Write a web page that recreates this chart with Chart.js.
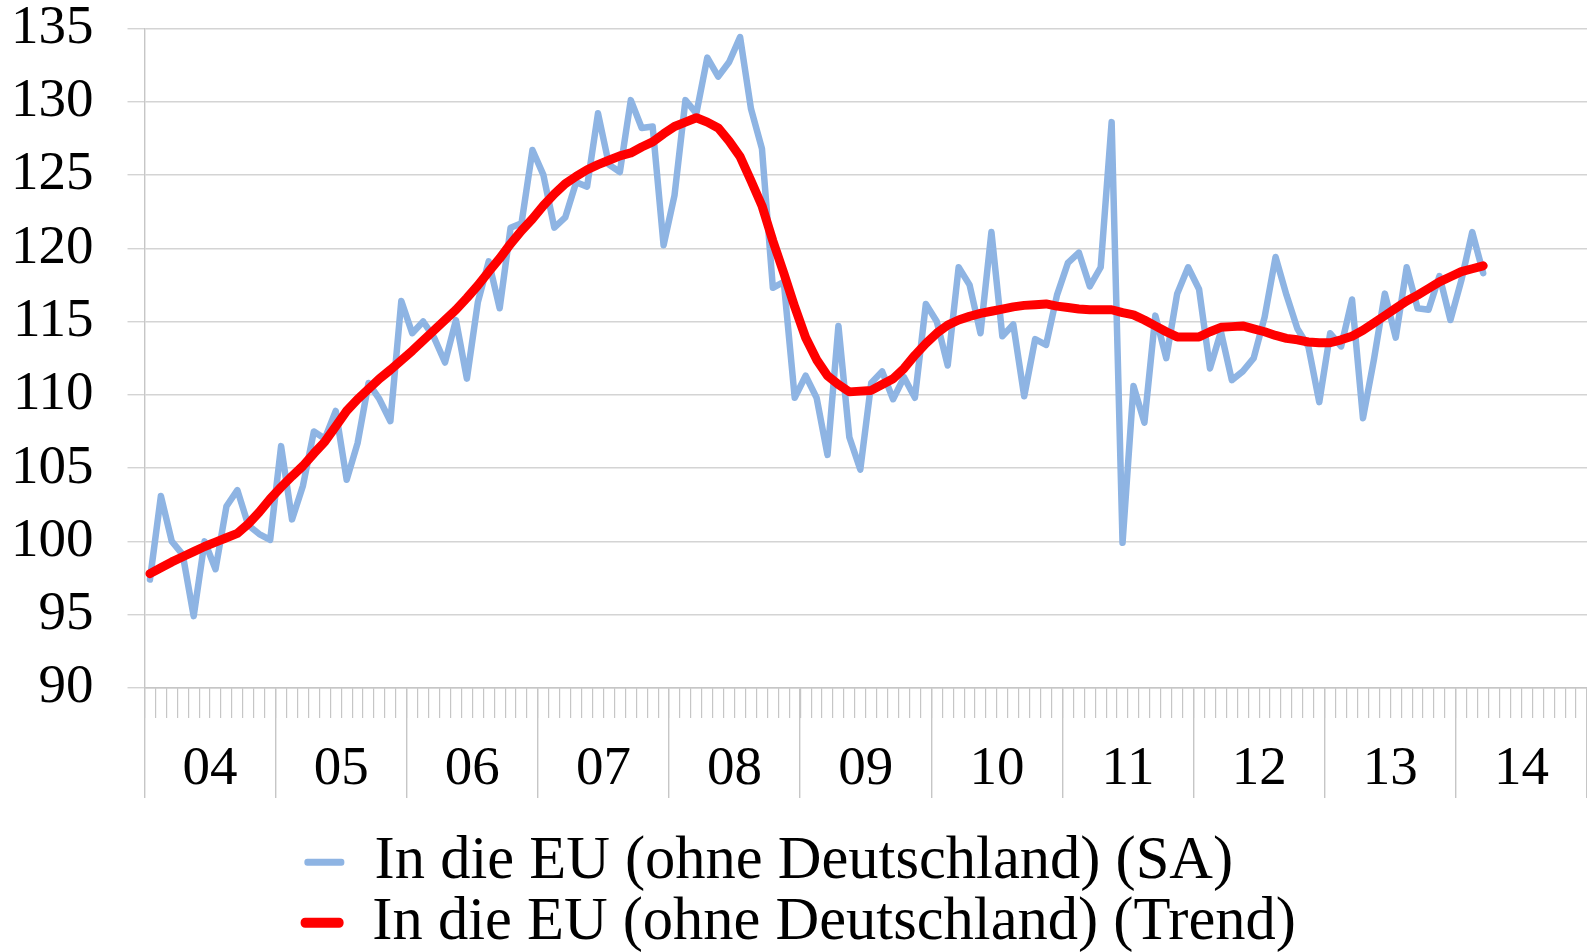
<!DOCTYPE html>
<html>
<head>
<meta charset="utf-8">
<script src="https://cdn.jsdelivr.net/npm/chart.js@4.4.1/dist/chart.umd.min.js"></script>
<style>
  html, body { margin: 0; padding: 0; background: #fff; }
  #wrap { width: 1587px; height: 952px; position: relative; }
</style>
</head>
<body>
<div id="wrap"><canvas id="chart"></canvas></div>
<script>
// Jahreslabels (Achse x), Monatswerte Jan 2004 - Mär 2014
const years = ['04', '05', '06', '07', '08', '09', '10', '11', '12', '13', '14'];
const monthsOnAxis = 132;

const saLabel = 'In die EU (ohne Deutschland) (SA)';
const trendLabel = 'In die EU (ohne Deutschland) (Trend)';

// saisonbereinigt
const saValues = [
  97.4, 103.1, 100.0, 99.1, 94.9, 100.0, 98.1, 102.4, 103.5, 101.1, 100.5, 100.1,
  106.5, 101.5, 103.8, 107.5, 107.0, 108.9, 104.2, 106.7, 110.8, 109.7, 108.2, 116.4,
  114.2, 115.0, 113.9, 112.2, 115.1, 111.1, 116.3, 119.1, 115.9, 121.4, 121.7, 126.7,
  125.0, 121.4, 122.1, 124.5, 124.2, 129.2, 125.7, 125.2, 130.1, 128.2, 128.3, 120.2,
  123.6, 130.1, 129.2, 133.0, 131.7, 132.7, 134.4, 129.5, 126.8, 117.3, 117.7, 109.8,
  111.3, 109.8, 105.9, 114.7, 107.1, 104.9, 110.8, 111.6, 109.7, 111.2, 109.8, 116.2,
  115.0, 112.0, 118.7, 117.5, 114.2, 121.1, 114.0, 114.8, 109.9, 113.8, 113.4, 116.8,
  119.0, 119.7, 117.4, 118.7, 128.6, 99.9, 110.6, 108.1, 115.4, 112.5, 116.9, 118.7,
  117.2, 111.8, 114.3, 111.0, 111.6, 112.5, 115.3, 119.4, 116.8, 114.5, 113.3, 109.5,
  114.2, 113.3, 116.5, 108.4, 112.4, 116.9, 113.9, 118.7, 115.9, 115.8, 118.1, 115.1,
  117.8, 121.1, 118.3
];

// Trend
const trendValues = [
  97.8, 98.2, 98.6, 98.95, 99.3, 99.65, 99.95, 100.25, 100.55, 101.2, 102.0, 102.9,
  103.7, 104.45, 105.15, 106.0, 106.8, 107.85, 108.9, 109.7, 110.4, 111.1, 111.7, 112.35,
  113.0, 113.7, 114.4, 115.1, 115.8, 116.6, 117.45, 118.4, 119.3, 120.3, 121.2, 122.0,
  122.9, 123.7, 124.4, 124.9, 125.35, 125.7, 126.0, 126.3, 126.5, 126.9, 127.25, 127.8,
  128.3, 128.6, 128.9, 128.6, 128.2, 127.3, 126.25, 124.6, 122.9, 120.5, 118.3, 116.0,
  113.9, 112.4, 111.3, 110.7, 110.2, 110.25, 110.3, 110.7, 111.1, 111.8, 112.7, 113.5,
  114.2, 114.75, 115.1, 115.35, 115.55, 115.7, 115.85, 116.0, 116.1, 116.15, 116.2, 116.05,
  115.95, 115.85, 115.8, 115.8, 115.8, 115.6, 115.45, 115.1, 114.7, 114.3, 113.95, 113.95,
  113.95, 114.3, 114.6, 114.65, 114.7, 114.5, 114.3, 114.05, 113.85, 113.75, 113.6, 113.55,
  113.55, 113.75, 114.0, 114.4, 114.9, 115.4, 115.9, 116.4, 116.8, 117.25, 117.7, 118.05,
  118.4, 118.6, 118.8
];

const yMin = 90, yMax = 135, yStep = 5;

const serif = 'Liberation Serif';
const axisGrey = '#c6c6c6';
const gridGrey = '#d4d4d4';

// Monat i liegt in der Mitte seines Intervalls
function toPoints(values) {
    return values.map((v, i) => ({ x: i + 0.5, y: v }));
}

const ctx = document.getElementById('chart').getContext('2d');

new Chart(ctx, {
    type: 'line',
    data: {
        datasets: [
            {
                label: saLabel,
                data: toPoints(saValues),
                borderColor: '#8eb4e3',
                borderWidth: 6.5,
                borderJoinStyle: 'round',
                borderCapStyle: 'round',
                pointRadius: 0,
                tension: 0,
                order: 1,
                legendBox: 0
            },
            {
                label: trendLabel,
                data: toPoints(trendValues),
                borderColor: '#ff0000',
                borderWidth: 9,
                borderJoinStyle: 'round',
                borderCapStyle: 'round',
                pointRadius: 0,
                tension: 0,
                order: 0,
                legendBox: 3
            }
        ]
    },
    options: {
        responsive: true,
        maintainAspectRatio: false,
        animation: false,
        layout: { padding: { left: 11, right: 0, top: 0, bottom: -11 } },
        plugins: {
            tooltip: { enabled: false },
            legend: {
                position: 'bottom',
                align: 'center',
                labels: {
                    font: { family: serif, size: 60.5 },
                    color: '#000',
                    boxWidth: 40,
                    boxHeight: 7,
                    padding: 0,
                    useBorderRadius: true,
                    borderRadius: 3,
                    sort: (a, b) => a.datasetIndex - b.datasetIndex,
                    generateLabels(chart) {
                        const items = Chart.defaults.plugins.legend.labels.generateLabels(chart);
                        items.forEach(it => {
                            const ds = chart.data.datasets[it.datasetIndex];
                            it.fillStyle = ds.borderColor;
                            it.strokeStyle = ds.borderColor;
                            it.lineWidth = ds.legendBox;
                        });
                        // beide Zeilen linksbündig: kürzere Zeile auffüllen
                        const sa = items.find(it => it.datasetIndex === 0);
                        const tr = items.find(it => it.datasetIndex === 1);
                        const c = chart.ctx;
                        c.save();
                        c.font = '60.5px "' + serif + '"';
                        const diff = c.measureText(tr.text).width - c.measureText(sa.text).width;
                        const sp = c.measureText(' ').width;
                        c.restore();
                        const n = Math.round(diff / sp);
                        if (n > 0) sa.text = sa.text + ' '.repeat(n);
                        return items;
                    }
                }
            }
        },
        scales: {
            x: {
                type: 'linear',
                position: 'bottom',
                min: 0,
                max: monthsOnAxis,
                afterFit: s => { s.height = 144; },
                ticks: {
                    stepSize: 6,
                    autoSkip: false,
                    maxRotation: 0,
                    minRotation: 0,
                    maxTicksLimit: 200,
                    padding: -56,
                    font: { family: serif, size: 55, lineHeight: 1 },
                    color: '#000',
                    callback: v => (v % 12 === 6 ? years[(v - 6) / 12] : '')
                },
                grid: {
                    drawOnChartArea: false,
                    tickLength: 110,
                    lineWidth: 1.4,
                    color: c => (c.tick && c.tick.value % 12 === 0 ? axisGrey : 'rgba(0,0,0,0)')
                },
                border: { display: true, color: axisGrey, width: 1.4 }
            },
            xm: {
                type: 'linear',
                position: { y: yMin },
                min: 0,
                max: monthsOnAxis,
                ticks: { stepSize: 1, autoSkip: false, display: false, maxTicksLimit: 200 },
                grid: {
                    drawOnChartArea: false,
                    tickLength: 30,
                    lineWidth: 1.2,
                    color: axisGrey
                },
                border: { display: false }
            },
            y: {
                min: yMin,
                max: yMax,
                afterFit: s => {
                    s.width = 133.5;
                    s.paddingTop = 28.3;
                    s.paddingBottom = 0;
                },
                ticks: {
                    stepSize: yStep,
                    padding: 34,
                    font: { family: serif, size: 55, lineHeight: 1.03 },
                    color: '#000'
                },
                grid: {
                    color: gridGrey,
                    lineWidth: 1.4,
                    tickLength: 17
                },
                border: { display: true, color: axisGrey, width: 1.4 }
            }
        }
    }
});
</script>
</body>
</html>
